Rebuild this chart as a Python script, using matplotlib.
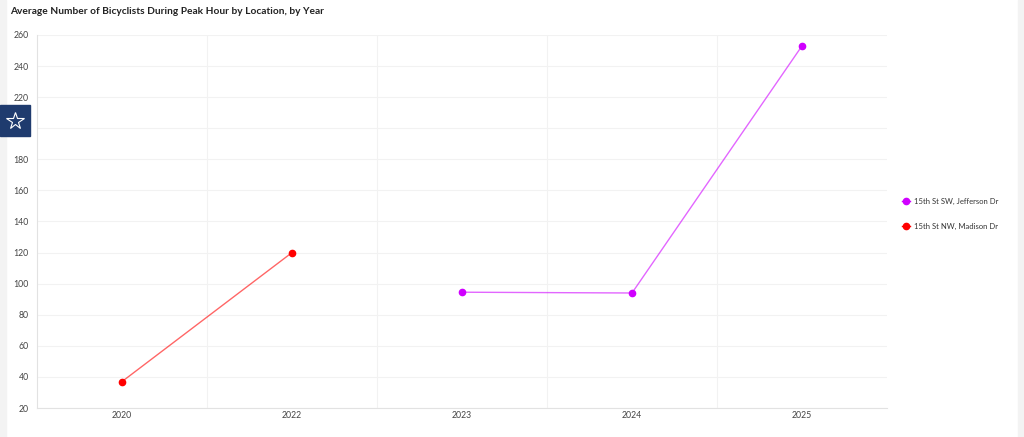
import matplotlib
matplotlib.use("Agg")
import matplotlib.pyplot as plt
from matplotlib.patches import Rectangle
from matplotlib.lines import Line2D

plt.rcParams['font.family'] = ['Lato', 'DejaVu Sans']

years = ['2020', '2022', '2023', '2024', '2025']
madison_years = ['2020', '2022']
madison_vals = [37, 120]
jefferson_years = ['2023', '2024', '2025']
jefferson_vals = [94.5, 94, 253]
series_names = ['15th St SW, Jefferson Dr', '15th St NW, Madison Dr']
yticks = [20, 40, 60, 80, 100, 120, 140, 160, 180, 200, 220, 240, 260]

purple = '#d000ff'
red = '#ff0000'

fig = plt.figure(figsize=(10.24, 4.37), dpi=100)
fig.patch.set_facecolor('white')

# page strips
fig.patches.append(Rectangle((0, 0), 6/1024, 1, transform=fig.transFigure, color='#f3f3f3', zorder=0))
fig.patches.append(Rectangle((1018/1024, 0), 6/1024, 1, transform=fig.transFigure, color='#f3f3f3', zorder=0))

ax = fig.add_axes([37/1024, 1 - 408/437, 850/1024, 373/437])
idx = {y: i for i, y in enumerate(years)}

ax.plot([idx[y] for y in madison_years], madison_vals, color=red, alpha=0.6, lw=1.0, zorder=3)
ax.plot([idx[y] for y in madison_years], madison_vals, 'o', color=red, ms=4.5, zorder=4)
ax.plot([idx[y] for y in jefferson_years], jefferson_vals, color=purple, alpha=0.6, lw=1.0, zorder=3)
ax.plot([idx[y] for y in jefferson_years], jefferson_vals, 'o', color=purple, ms=4.5, zorder=4)

ax.set_xlim(-0.5, len(years) - 0.5)
ax.set_ylim(20, 260)
ax.set_xticks(range(len(years)))
ax.set_xticklabels(years)
ax.set_yticks(yticks)
ax.set_xticks([i + 0.5 for i in range(len(years) - 1)], minor=True)
ax.grid(axis='y', which='major', color='#f2f2f2', lw=0.8)
ax.grid(axis='x', which='minor', color='#f2f2f2', lw=0.8)
ax.grid(axis='x', which='major', visible=False)
ax.tick_params(axis='both', which='both', length=0, labelsize=6.3, colors='#444444')
ax.tick_params(axis='x', pad=2.5)
ax.tick_params(axis='y', pad=6)
for s in ['top', 'right']:
    ax.spines[s].set_visible(False)
for s in ['left', 'bottom']:
    ax.spines[s].set_color('#e2e2e2')
    ax.spines[s].set_linewidth(0.8)

fig.text(10/1024, 1 - 11/437, 'Average Number of Bicyclists During Peak Hour by Location, by Year',
         fontsize=7.3, fontweight='bold', color='#222222', va='center', ha='left')

handles = [Line2D([0], [0], color=purple, marker='o', ms=4.5, lw=1.0),
           Line2D([0], [0], color=red, marker='o', ms=4.5, lw=1.0)]
fig.legend(handles, series_names, loc='center left', bbox_to_anchor=(895/1024, 1 - 214/437),
           frameon=False, fontsize=5.5, handlelength=1.0, handletextpad=0.6, labelspacing=2.3,
           labelcolor='#333333')

# star button (decorative)
fig.patches.append(Rectangle((0, 1 - 136/437), 30/1024, 31/437, transform=fig.transFigure,
                             color='#1f3b6e', zorder=5))
star = Line2D([15/1024], [1 - 121/437], transform=fig.transFigure, marker='*', ms=13,
              markerfacecolor='none', markeredgecolor='white', markeredgewidth=0.8, lw=0, zorder=6)
fig.lines.append(star)

fig.savefig('out.png', dpi=100, facecolor='white')
